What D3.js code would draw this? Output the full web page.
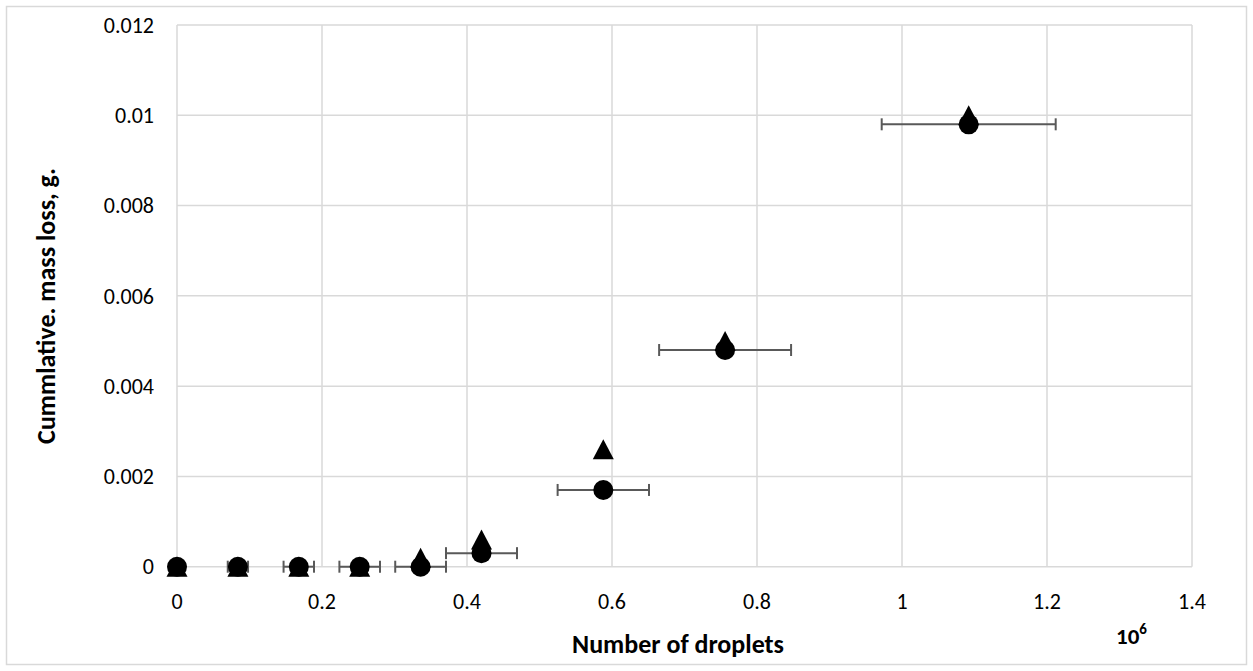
<!DOCTYPE html>
<html>
<head>
<meta charset="utf-8">
<script src="https://cdn.jsdelivr.net/npm/d3@7"></script>
<style>
  body { margin: 0; background: #fff; }
  text { font-family: Carlito, Calibri, Lato, sans-serif; fill: #000; }
</style>
</head>
<body>
<script>
// data (x in millions of droplets)
var droplets = [0, 0.084, 0.168, 0.252, 0.336, 0.42, 0.588, 0.756, 1.092];
var massCircle = [0, 0, 0, 0, 0, 0.0003, 0.0017, 0.0048, 0.0098];
var massTriangle = [0, 0, 0, 0, 0.0002, 0.0006, 0.0026, 0.005, 0.01];
var xError = [0, 0.014, 0.021, 0.028, 0.035, 0.049, 0.063, 0.091, 0.12];
var xTicks = [0, 0.2, 0.4, 0.6, 0.8, 1, 1.2, 1.4];
var xTickLabels = ['0', '0.2', '0.4', '0.6', '0.8', '1', '1.2', '1.4'];
var yTicks = [0, 0.002, 0.004, 0.006, 0.008, 0.01, 0.012];
var yTickLabels = ['0', '0.002', '0.004', '0.006', '0.008', '0.01', '0.012'];

var W = 1253, H = 671;
var svg = d3.select('body').append('svg').attr('width', W).attr('height', H);

// outer chart border
svg.append('rect').attr('x', 6.5).attr('y', 6.5).attr('width', 1240).attr('height', 658)
    .attr('fill', 'white').attr('stroke', '#d9d9d9').attr('stroke-width', 1.5);

var x = d3.scaleLinear().domain([0, 1.4]).range([177, 1192]);
var y = d3.scaleLinear().domain([0, 0.012]).range([566.7, 25]);

// grid
var grid = svg.append('g');
grid.selectAll('.vg').data(xTicks).enter().append('line')
    .attr('x1', d => x(d)).attr('x2', d => x(d))
    .attr('y1', y(0)).attr('y2', y(0.012))
    .attr('stroke', '#d9d9d9').attr('stroke-width', 1.5);
grid.selectAll('.hg').data(yTicks).enter().append('line')
    .attr('x1', x(0)).attr('x2', x(1.4))
    .attr('y1', d => y(d)).attr('y2', d => y(d))
    .attr('stroke', '#d9d9d9').attr('stroke-width', 1.5);

// tick labels
svg.selectAll('.xt').data(xTicks).enter().append('text')
    .attr('x', d => x(d)).attr('y', 609)
    .attr('text-anchor', 'middle').attr('font-size', 22)
    .text((d, i) => xTickLabels[i]);
svg.selectAll('.yt').data(yTicks).enter().append('text')
    .attr('x', 154).attr('y', d => y(d)).attr('dy', '0.35em')
    .attr('text-anchor', 'end').attr('font-size', 22)
    .text((d, i) => yTickLabels[i]);

// axis titles
svg.append('text').attr('x', 678).attr('y', 653)
    .attr('text-anchor', 'middle').attr('font-size', 26).attr('font-weight', 'bold')
    .text('Number of droplets');
svg.append('text').attr('transform', 'translate(55,306) rotate(-90)')
    .attr('text-anchor', 'middle').attr('font-size', 26).attr('font-weight', 'bold')
    .text('Cummlative. mass loss, g.');
var exp = svg.append('text').attr('x', 1116).attr('y', 644)
    .attr('font-size', 23).attr('font-weight', 'bold');
exp.append('tspan').text('10');
exp.append('tspan').attr('font-size', 15).attr('dy', -10).text('6');

var pts = droplets.map((d, i) => ({x: d, c: massCircle[i], t: massTriangle[i], e: xError[i]}));

// error bars (circle series)
var eb = svg.append('g').attr('stroke', '#595959').attr('stroke-width', 2);
pts.filter(p => p.e > 0).forEach(function(p) {
    var cy = y(p.c);
    eb.append('line').attr('x1', x(p.x - p.e)).attr('x2', x(p.x + p.e)).attr('y1', cy).attr('y2', cy);
    eb.append('line').attr('x1', x(p.x - p.e)).attr('x2', x(p.x - p.e)).attr('y1', cy - 6).attr('y2', cy + 6);
    eb.append('line').attr('x1', x(p.x + p.e)).attr('x2', x(p.x + p.e)).attr('y1', cy - 6).attr('y2', cy + 6);
});

// triangles
svg.selectAll('.tri').data(pts).enter().append('path')
    .attr('d', function(p) {
        var cx = x(p.x), cy = y(p.t);
        return 'M' + cx + ',' + (cy - 10) + 'L' + (cx + 10.5) + ',' + (cy + 10) + 'L' + (cx - 10.5) + ',' + (cy + 10) + 'Z';
    })
    .attr('fill', '#000');

// circles
svg.selectAll('.dot').data(pts).enter().append('circle')
    .attr('cx', p => x(p.x)).attr('cy', p => y(p.c)).attr('r', 10)
    .attr('fill', '#000');
</script>
</body>
</html>
